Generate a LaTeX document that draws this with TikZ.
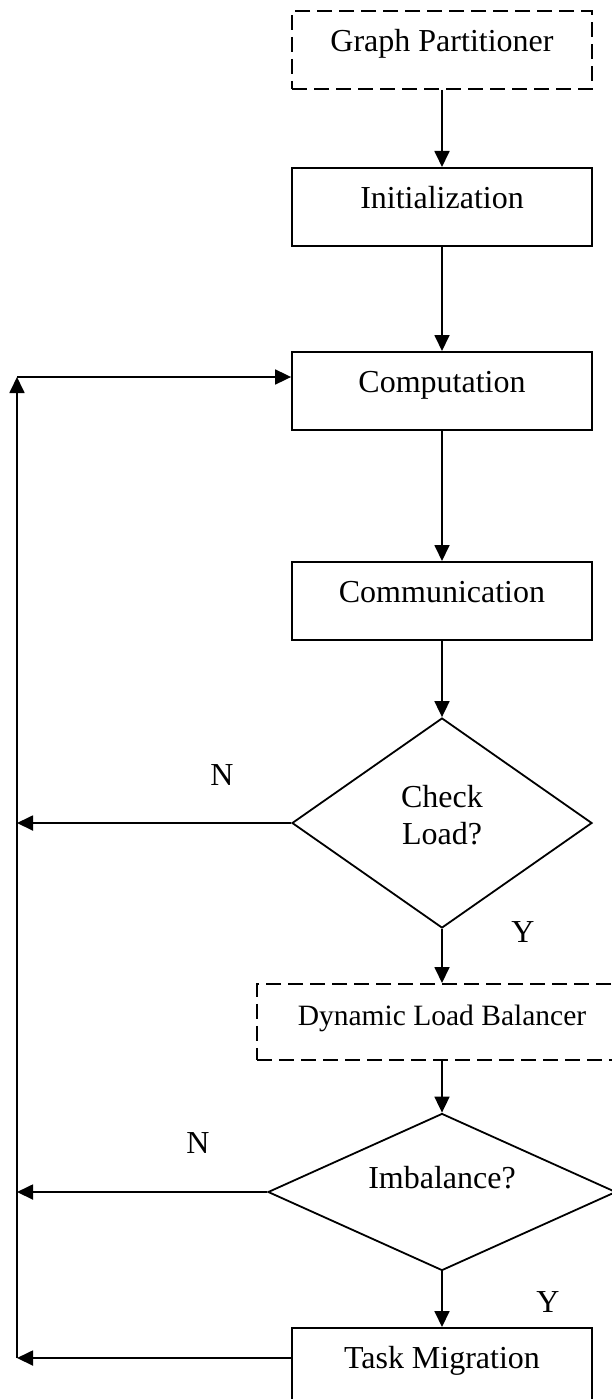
\documentclass[tikz,border=0pt]{standalone}
\usepackage{fontspec}
\setmainfont{Liberation Serif}
\usetikzlibrary{shapes.geometric,arrows.meta}

\tikzset{
  base/.style={line width=1.8pt},
  stepbox/.style={base, draw, rectangle, anchor=north, minimum width=300pt,
    inner sep=0pt, text height=41pt, text depth=37pt,
    font=\fontsize{32}{38}\selectfont},
  dashbox/.style={dash pattern=on 15pt off 7pt},
  decision/.style={base, draw, diamond, inner sep=0pt},
  dtext/.style={font=\fontsize{32}{37}\selectfont, align=center, inner sep=0pt},
  tag/.style={font=\fontsize{32}{38}\selectfont, inner sep=0pt},
  flow/.style={base, -{Triangle[length=16pt,width=15pt]}},
}

\begin{document}
\begin{tikzpicture}[x=1pt,y=-1pt]
  \useasboundingbox (0,0) rectangle (612,1399);

  % process boxes
  \node[stepbox, dashbox] (gp)   at (442,10)   {Graph Partitioner};
  \node[stepbox]          (init) at (442,167)  {Initialization};
  \node[stepbox]          (comp) at (442,351)  {Computation};
  \node[stepbox]          (comm) at (442,561)  {Communication};
  \node[stepbox, dashbox, minimum width=370pt, text height=42pt, text depth=34pt,
        font=\fontsize{29.5}{36}\selectfont] (dlb) at (442,983) {Dynamic Load Balancer};
  \node[stepbox]          (task) at (442,1327) {Task Migration};

  % decisions
  \node[decision, minimum width=300pt, minimum height=210pt] (ck)  at (442,823)  {};
  \node[dtext] (cktext) at ([yshift=8pt]ck.center) {Check\\Load?};
  \node[decision, minimum width=348pt, minimum height=157pt] (imb) at (442,1192) {};
  \node[dtext] (imbtext) at ([yshift=14pt]imb.center) {Imbalance?};

  % branch labels
  \node[tag] (n1) at (222,775)  {N};
  \node[tag] (y1) at (523,932)  {Y};
  \node[tag] (n2) at (198,1143) {N};
  \node[tag] (y2) at (548,1302) {Y};

  % return rail on the left
  \coordinate (rail)    at (17,377);
  \coordinate (railbot) at (17,1358);

  % main flow
  \draw[flow] (gp)   -- (init);
  \draw[flow] (init) -- (comp);
  \draw[flow] (comp) -- (comm);
  \draw[flow] (comm) -- (ck.north);
  \draw[flow] (ck.south) -- (dlb);
  \draw[flow] (dlb)  -- (imb.north);
  \draw[flow] (imb.south) -- (task);

  % loop back to computation
  \draw[flow] (ck.west)  -- (ck.west -| rail);
  \draw[flow] (imb.west) -- (imb.west -| rail);
  \draw[flow] (railbot -| task.west) -- (railbot);
  \draw[flow] (railbot) -- (rail);
  \draw[flow] (rail) -- (rail -| comp.west);
\end{tikzpicture}
\end{document}
